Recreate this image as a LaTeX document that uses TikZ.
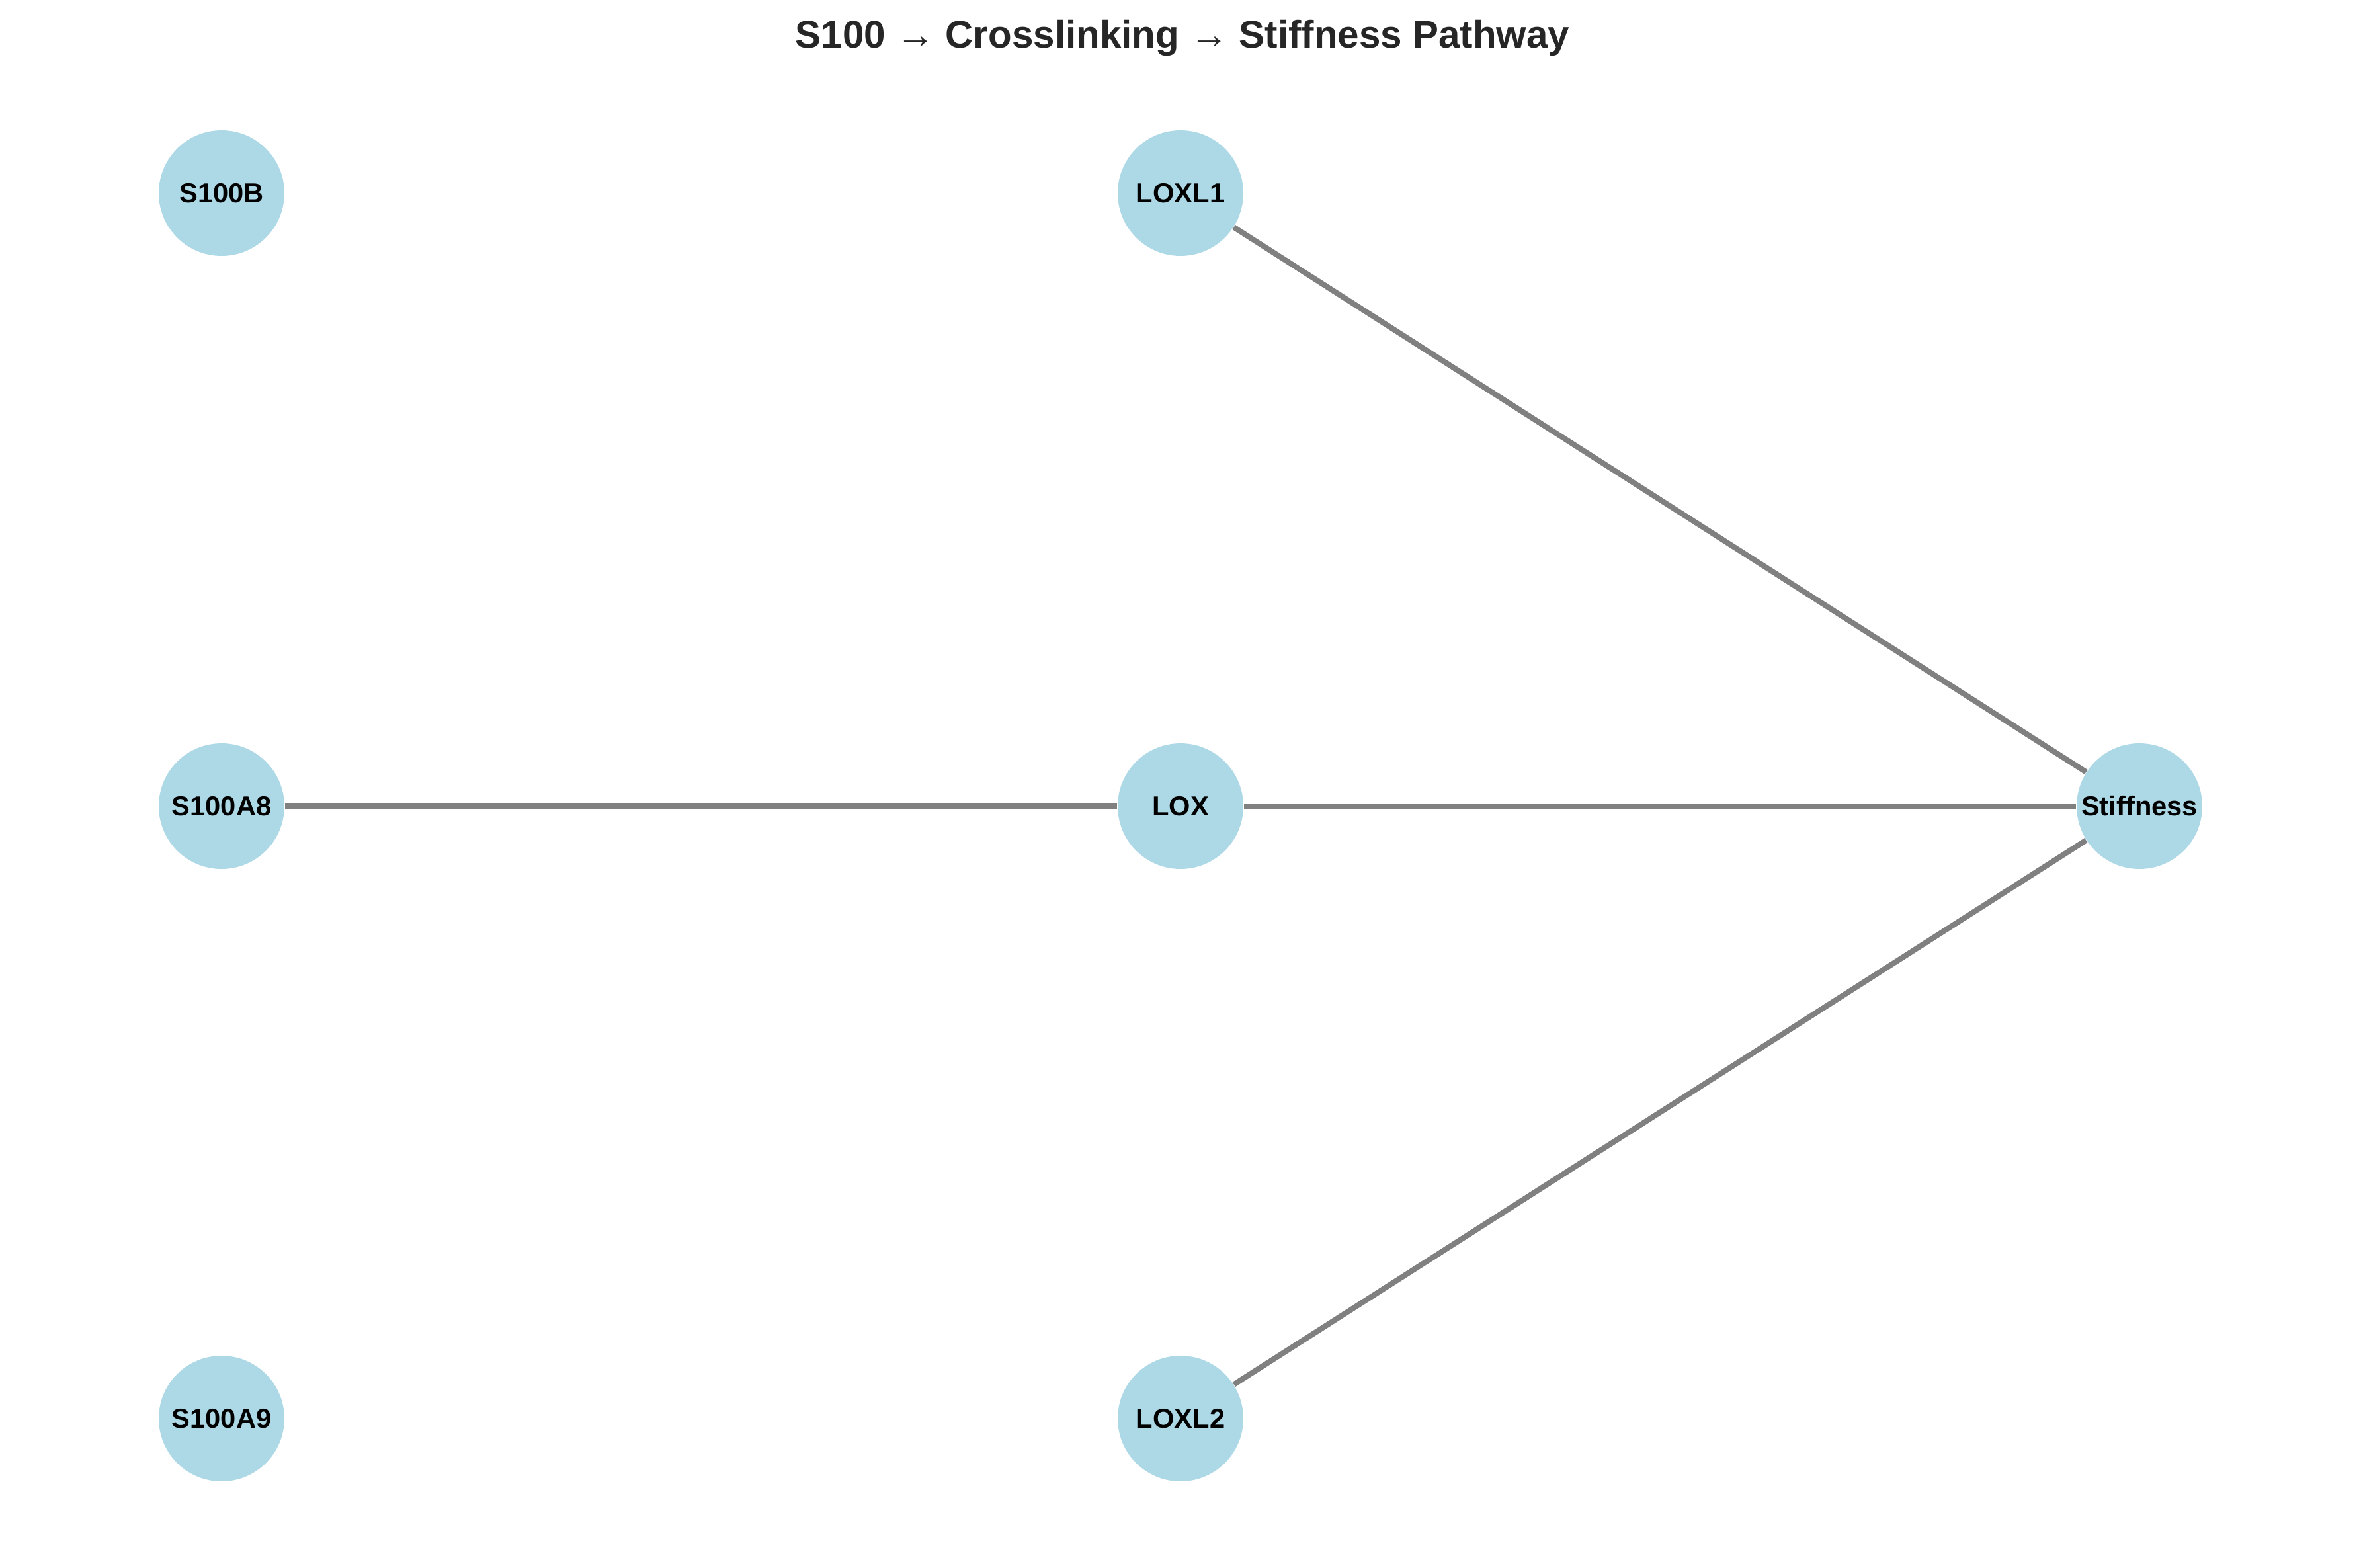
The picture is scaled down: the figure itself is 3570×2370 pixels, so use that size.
\documentclass[tikz,border=0pt]{standalone}
\usepackage{fontspec}
\setmainfont{Liberation Sans}
\usetikzlibrary{arrows}

\definecolor{nodeblue}{HTML}{ADD8E6}
\definecolor{edgegray}{HTML}{808080}
\definecolor{titlegray}{HTML}{262626}

\begin{document}
\begin{tikzpicture}[x=0.24pt,y=-0.24pt]

\tikzset{vertex/.style = {shape=circle,fill=nodeblue,minimum size=45.6pt,inner sep=0pt,font=\fontsize{10}{12}\selectfont\bfseries}}
\tikzset{edge/.style = {draw=edgegray,line width=2pt}}
\useasboundingbox (0,0) rectangle (3570,2370);
% title
\node[anchor=base,text=titlegray,font=\fontsize{14}{17}\selectfont\bfseries] (title) at (1788,72) {S100 → Crosslinking → Stiffness Pathway};
% vertices
\node[vertex] (S100B) at (335,292) {S100B};
\node[vertex] (S100A8) at (335,1219) {S100A8};
\node[vertex] (S100A9) at (335,2145) {S100A9};
\node[vertex] (LOXL1) at (1785,292) {LOXL1};
\node[vertex] (LOX) at (1785,1219) {LOX};
\node[vertex] (LOXL2) at (1785,2145) {LOXL2};
\node[vertex] (Stiffness) at (3235,1219) {Stiffness};
%edges
\draw [edge,line width=2.3pt] (S100A8) -- (LOX);
\draw [edge] (LOX) -- (Stiffness);
\draw [edge] (LOXL1) -- (Stiffness);
\draw [edge] (LOXL2) -- (Stiffness);

\end{tikzpicture}
\end{document}
